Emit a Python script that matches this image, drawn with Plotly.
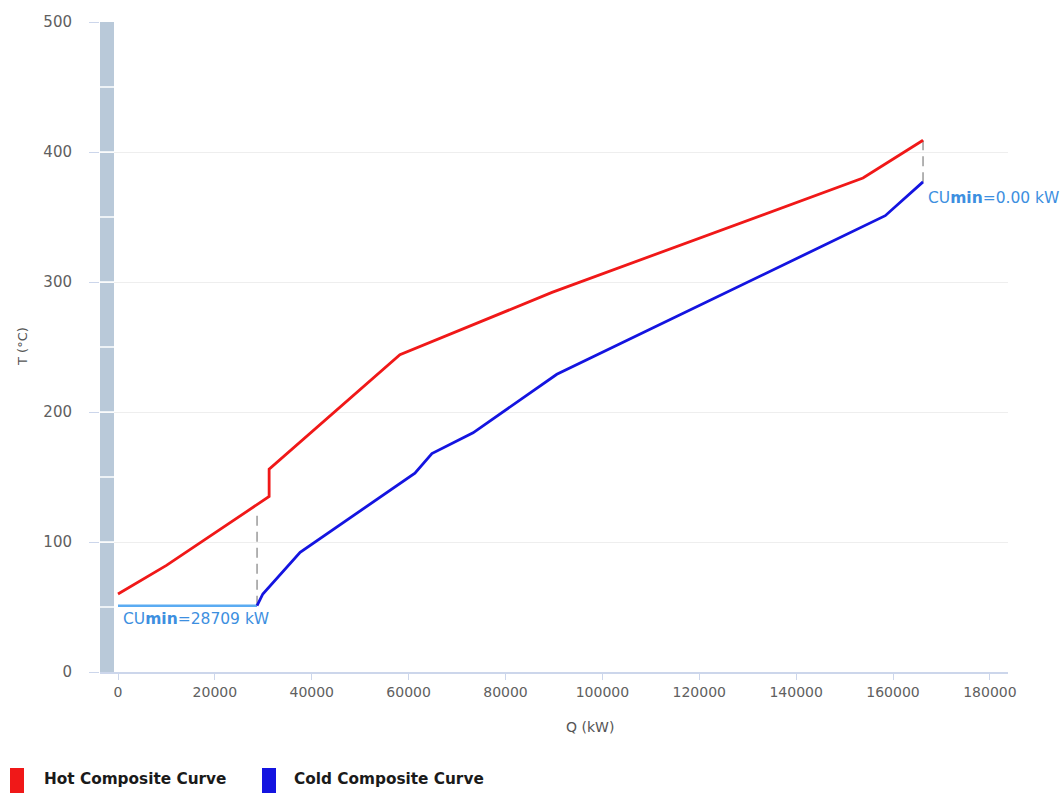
import plotly.graph_objects as go

# Composite curve data: heat load Q (kW) vs temperature T (°C)
hot_q = [0, 10000, 31200, 31200, 58200, 89600, 153800, 166200]
hot_t = [60, 82, 135, 156, 244, 292, 380, 409]

cold_q = [28709, 29900, 37600, 61300, 64800, 73300, 90600, 158400, 166200]
cold_t = [51, 60, 92, 153, 168, 184, 229, 351, 377]

# Cold utility target and pinch-side markers
cu_min_q = 28709
cu_line_t = 51
cu_min_label = "CU<b>min</b>=28709 kW"
cu_end_label = "CU<b>min</b>=0.00 kW"

x_ticks = [0, 20000, 40000, 60000, 80000, 100000, 120000, 140000, 160000, 180000]
x_tick_labels = ["0", "20000", "40000", "60000", "80000", "100000", "120000",
                 "140000", "160000", "180000"]
y_ticks = [0, 100, 200, 300, 400, 500]

W, H = 1062, 793
L, R, T, B = 100, 54, 22, 121
PW, PH = W - L - R, H - T - B


def px(xp):
    return (xp - L) / PW


def py(yp):
    return (H - B - yp) / PH


FONT = "DejaVu Sans"
LABEL = "#606060"

fig = go.Figure()

fig.add_trace(go.Scatter(x=[0, cu_min_q], y=[cu_line_t, cu_line_t], mode="lines",
                         line=dict(color="#5aabf2", width=2.5), hoverinfo="skip"))
fig.add_trace(go.Scatter(x=[cu_min_q, cu_min_q], y=[cu_line_t, 121], mode="lines",
                         line=dict(color="#a0a0a0", width=1.6, dash="10px,6px"), hoverinfo="skip"))
fig.add_trace(go.Scatter(x=[hot_q[-1], cold_q[-1]], y=[hot_t[-1], cold_t[-1]], mode="lines",
                         line=dict(color="#a0a0a0", width=1.6, dash="10px,6px"), hoverinfo="skip"))
fig.add_trace(go.Scatter(x=hot_q, y=hot_t, mode="lines", name="Hot Composite Curve",
                         line=dict(color="#f01818", width=2.8)))
fig.add_trace(go.Scatter(x=cold_q, y=cold_t, mode="lines", name="Cold Composite Curve",
                         line=dict(color="#1414e0", width=2.8)))

shapes = []
# left shaded band with white separators every 50 °C
shapes.append(dict(type="rect", xref="paper", yref="y", x0=0, x1=px(114), y0=0, y1=500,
                   fillcolor="#b9c9d9", line=dict(width=0), layer="below"))
for t in range(50, 500, 50):
    shapes.append(dict(type="line", xref="paper", yref="y", x0=0, x1=px(114), y0=t, y1=t,
                       line=dict(color="white", width=1.5)))

# legend swatches
shapes.append(dict(type="rect", xref="paper", yref="paper", x0=px(10), x1=px(24),
                   y0=py(798), y1=py(768), fillcolor="#f01818", line=dict(width=0)))
shapes.append(dict(type="rect", xref="paper", yref="paper", x0=px(262), x1=px(276),
                   y0=py(798), y1=py(768), fillcolor="#1414e0", line=dict(width=0)))

annotations = [
    dict(x=0, y=cu_line_t, xref="x", yref="y", text=cu_min_label, showarrow=False,
         xanchor="left", yanchor="top", xshift=3, yshift=-2,
         font=dict(family=FONT, size=15.5, color="#3d8fe0")),
    dict(x=cold_q[-1], y=cold_t[-1], xref="x", yref="y", text=cu_end_label, showarrow=False,
         xanchor="left", yanchor="top", xshift=3, yshift=-5,
         font=dict(family=FONT, size=15.5, color="#3d8fe0")),
    dict(x=px(590), y=py(727), xref="paper", yref="paper", text="Q (kW)", showarrow=False,
         xanchor="center", yanchor="middle", font=dict(family=FONT, size=14, color="#555555")),
    dict(x=px(22), y=0.5, xref="paper", yref="paper", text="T (°C)", showarrow=False,
         textangle=-90, xanchor="center", yanchor="middle",
         font=dict(family=FONT, size=13, color="#555555")),
    dict(x=px(42), y=py(779), xref="paper", yref="paper", text="<b>Hot Composite Curve</b>",
         showarrow=False, xanchor="left", yanchor="middle",
         font=dict(family=FONT, size=15.3, color="#1a1a1a")),
    dict(x=px(292), y=py(779), xref="paper", yref="paper", text="<b>Cold Composite Curve</b>",
         showarrow=False, xanchor="left", yanchor="middle",
         font=dict(family=FONT, size=15.3, color="#1a1a1a")),
]

fig.update_layout(
    width=W, height=H, autosize=False,
    margin=dict(l=L, r=R, t=T, b=B),
    paper_bgcolor="white", plot_bgcolor="white",
    showlegend=False,
    shapes=shapes, annotations=annotations,
    xaxis=dict(range=[-3716, 183740], tickvals=x_ticks, ticktext=x_tick_labels,
               showgrid=False, zeroline=False,
               showline=True, linecolor="#ccd6eb", linewidth=1.5,
               ticks="outside", ticklen=6, tickcolor="#ccd6eb",
               tickfont=dict(family=FONT, size=14, color=LABEL)),
    yaxis=dict(range=[0, 500], tickvals=y_ticks, showgrid=True, gridcolor="#eeeeee",
               zeroline=False, showline=False,
               ticks="outside", ticklen=10, tickcolor="#ccd6eb",
               ticklabelstandoff=14,
               tickfont=dict(family=FONT, size=15, color=LABEL)),
)

fig.write_html("out.html")
